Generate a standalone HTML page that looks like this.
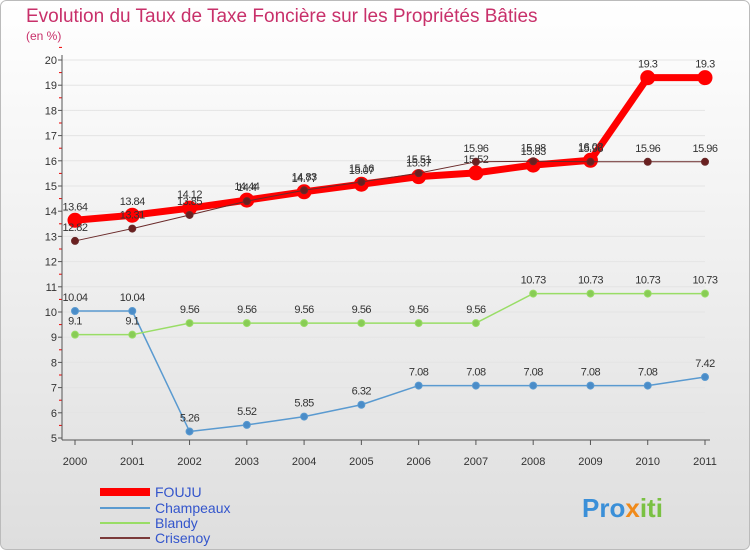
<!DOCTYPE html>
<html><head><meta charset="utf-8"><style>
body{margin:0;width:750px;height:550px;overflow:hidden;font-family:"Liberation Sans",sans-serif}
</style></head><body>
<svg id="c" width="750" height="550" xmlns="http://www.w3.org/2000/svg" style="font-family:'Liberation Sans',sans-serif">
<defs><linearGradient id="bg" x1="0" y1="0" x2="0" y2="1"><stop offset="0" stop-color="#ffffff"/><stop offset="1" stop-color="#dedede"/></linearGradient></defs>
<rect x="0.5" y="0.5" width="749" height="549" rx="6" fill="url(#bg)" stroke="#bbb"/>
<text x="26" y="22" font-size="19" fill="#c8306a">Evolution du Taux de Taxe Foncière sur les Propriétés Bâties</text>
<text x="26" y="40" font-size="12" fill="#c8306a">(en %)</text>
<g id="plot"></g>
<g>
<line x1="100" y1="492" x2="150" y2="492" stroke="#ff0000" stroke-width="8"/>
<text x="155" y="497" font-size="14" fill="#3355cc">FOUJU</text>
<line x1="100" y1="508" x2="150" y2="508" stroke="#5a9ad0" stroke-width="2"/>
<text x="155" y="513" font-size="14" fill="#3355cc">Champeaux</text>
<line x1="100" y1="523" x2="150" y2="523" stroke="#99dd66" stroke-width="2"/>
<text x="155" y="528" font-size="14" fill="#3355cc">Blandy</text>
<line x1="100" y1="538" x2="150" y2="538" stroke="#7a3a3a" stroke-width="2"/>
<text x="155" y="543" font-size="14" fill="#3355cc">Crisenoy</text>
</g>
<text x="582" y="517" font-size="26" font-weight="bold" fill="#3a8fd8">Pro<tspan fill="#f08a1a">x</tspan><tspan fill="#7ac143">iti</tspan></text>
</svg>
<script>
const years=[2000,2001,2002,2003,2004,2005,2006,2007,2008,2009,2010,2011];
const fouju=[13.64,13.84,14.12,14.44,14.77,15.07,15.37,15.52,15.83,16.02,19.3,19.3];
const champeaux=[10.04,10.04,5.26,5.52,5.85,6.32,7.08,7.08,7.08,7.08,7.08,7.42];
const blandy=[9.1,9.1,9.56,9.56,9.56,9.56,9.56,9.56,10.73,10.73,10.73,10.73];
const crisenoy=[12.82,13.31,13.85,14.4,14.83,15.16,15.51,15.96,15.98,15.96,15.96,15.96];
const yTicks=[5,6,7,8,9,10,11,12,13,14,15,16,17,18,19,20];
const NS="http://www.w3.org/2000/svg";
const g=document.getElementById('plot');
const X=i=>75+i*(630/11);
const Y=v=>438-(v-5)*(378/15);
function el(t,a,p){const e=document.createElementNS(NS,t);for(const k in a)e.setAttribute(k,a[k]);(p||g).appendChild(e);return e;}
yTicks.forEach(v=>{
 const l=el('line',{x1:62,x2:705,y1:Y(v),y2:Y(v),stroke:'#e4e4e4'});
 
 
 const t=el('text',{x:57,y:Y(v)+4,'font-size':11,'text-anchor':'end',fill:'#333'});
 t.textContent=v;
 
 
 el('line',{x1:58,x2:62,y1:Y(v),y2:Y(v),stroke:'#555'});
 el('line',{x1:59,x2:62,y1:Y(v+0.5),y2:Y(v+0.5),stroke:'#e00'});
});
el('line',{x1:62,x2:62,y1:55,y2:440,stroke:'#555'});
el('line',{x1:62,x2:710,y1:440,y2:440,stroke:'#555'});
years.forEach((y,i)=>{
 el('line',{x1:X(i),x2:X(i),y1:440,y2:445,stroke:'#555'});
 const t=el('text',{x:X(i),y:465,'font-size':11,'text-anchor':'middle',fill:'#333'});
 t.textContent=y;
 
 
});
function series(name,vals,color,w,r,dot,labelColor){
 const p=el('polyline',{points:vals.map((v,i)=>X(i)+','+Y(v)).join(' '),fill:'none',stroke:color,'stroke-width':w,'stroke-linejoin':'round'});
 
 
 vals.forEach((v,i)=>{
  const c=el('circle',{cx:X(i),cy:Y(v),r:r,fill:dot,stroke:color,'stroke-width':1});
  
  
  const t=el('text',{x:X(i),y:Y(v)-10,'font-size':11,'text-anchor':'middle',fill:labelColor,'letter-spacing':'-0.5'});
  t.textContent=v;
  
  
 });
}
series('champeaux',champeaux,'#5a9ad0',1.5,3.5,'#4a8cc8','#333');
series('blandy',blandy,'#99dd66',1.5,3.5,'#88cc55','#333');
series('fouju',fouju,'#ff0000',7,7,'#ff0000','#333');
series('crisenoy',crisenoy,'#6a2a2a',1,3.5,'#6a2020','#333');
</script>
</body></html>
